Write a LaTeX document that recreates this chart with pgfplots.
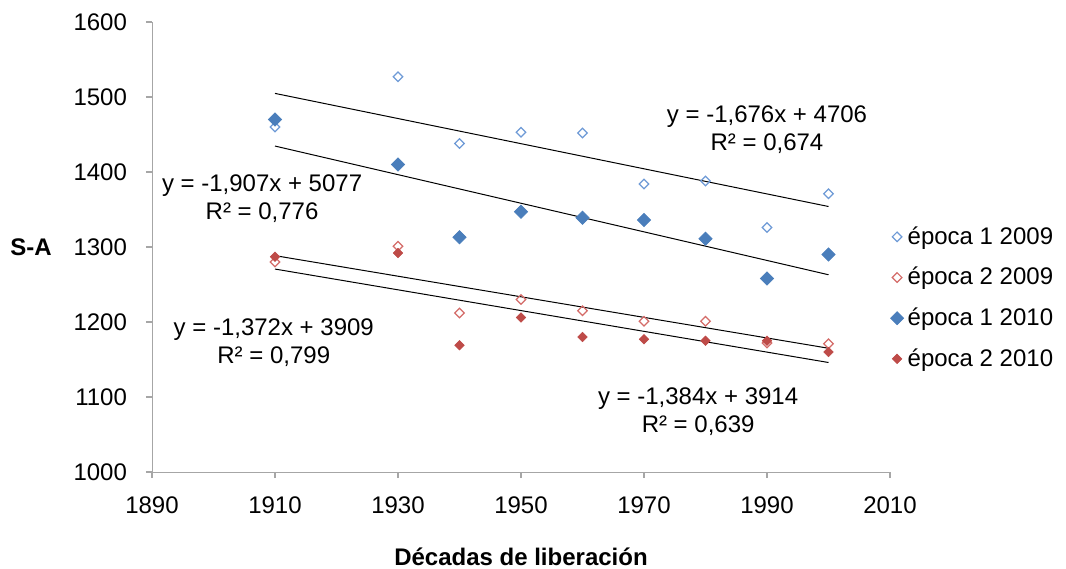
\documentclass[border=0pt]{standalone}
\usepackage{pgfplots}
\pgfplotsset{compat=1.18}
\usepackage{fontspec}
\setmainfont{Liberation Sans}

\definecolor{bluefill}{HTML}{4A7EBB}
\definecolor{blueopen}{HTML}{6E9AD6}
\definecolor{redfill}{HTML}{BE4B48}
\definecolor{redopen}{HTML}{D46B68}

% square diamond marks like Excel
\pgfdeclareplotmark{dia}{%
  \pgfpathmoveto{\pgfqpoint{0pt}{\pgfplotmarksize}}%
  \pgfpathlineto{\pgfqpoint{\pgfplotmarksize}{0pt}}%
  \pgfpathlineto{\pgfqpoint{0pt}{-\pgfplotmarksize}}%
  \pgfpathlineto{\pgfqpoint{-\pgfplotmarksize}{0pt}}%
  \pgfpathclose\pgfusepathqstroke}
\pgfdeclareplotmark{dia*}{%
  \pgfpathmoveto{\pgfqpoint{0pt}{\pgfplotmarksize}}%
  \pgfpathlineto{\pgfqpoint{\pgfplotmarksize}{0pt}}%
  \pgfpathlineto{\pgfqpoint{0pt}{-\pgfplotmarksize}}%
  \pgfpathlineto{\pgfqpoint{-\pgfplotmarksize}{0pt}}%
  \pgfpathclose\pgfusepathqfillstroke}

\begin{document}
\begin{tikzpicture}[font=\fontsize{12}{14}\selectfont]
\useasboundingbox (-76pt,-48pt) rectangle (457pt,236pt);
\begin{axis}[
    at={(0,0)}, anchor=south west,
    width=369pt, height=225pt, scale only axis,
    xmin=1890, xmax=2010, ymin=1000, ymax=1600,
    xtick={1890,1910,...,2010}, ytick={1000,1100,...,1600},
    axis x line=bottom, axis y line=left,
    axis line style={draw=gray!70, -},
    tick style={draw=gray!70, line width=0.6pt},
    tick align=outside, major tick length=3pt,
    /pgf/number format/1000 sep={},
    /pgf/number format/assume math mode=true,
    xticklabel style={yshift=-6pt},
    yticklabel style={xshift=-6pt},
    xlabel={\bfseries Décadas de liberación},
    ylabel={\bfseries S-A},
    every axis x label/.style={at={(axis description cs:0.5,-0.188)}, anchor=center},
    every axis y label/.style={at={(axis description cs:-0.164,0.5)}, anchor=center},
    legend style={at={(axis description cs:0.992,0.387)}, anchor=west, draw=none, fill=none,
        row sep=6pt, font=\fontsize{12}{14}\selectfont},
    legend cell align=left,
]
% época 1 2009
\addplot[only marks, mark=dia, mark size=2.4pt, blueopen, line width=0.6pt]
  coordinates {(1910,1460) (1930,1527) (1940,1438) (1950,1453) (1960,1452)
               (1970,1384) (1980,1388) (1990,1326) (2000,1371)};
\addlegendentry{época 1 2009}
% época 2 2009
\addplot[only marks, mark=dia, mark size=2.4pt, redopen, line width=0.6pt]
  coordinates {(1910,1280) (1930,1301) (1940,1212) (1950,1230) (1960,1215)
               (1970,1201) (1980,1201) (1990,1172) (2000,1171)};
\addlegendentry{época 2 2009}
% época 1 2010
\addplot[only marks, mark=dia*, mark size=3.3pt, bluefill, line width=0.3pt]
  coordinates {(1910,1470) (1930,1410) (1940,1313) (1950,1347) (1960,1339)
               (1970,1336) (1980,1311) (1990,1258) (2000,1290)};
\addlegendentry{época 1 2010}
% época 2 2010
\addplot[only marks, mark=dia*, mark size=2.4pt, redfill, line width=0.3pt]
  coordinates {(1910,1287) (1930,1292) (1940,1169) (1950,1206) (1960,1180)
               (1970,1177) (1980,1175) (1990,1175) (2000,1160)};
\addlegendentry{época 2 2010}

% trend lines
\addplot[forget plot, black, line width=0.5pt] coordinates {(1910,1504.8) (2000,1354.0)};
\addplot[forget plot, black, line width=0.5pt] coordinates {(1910,1434.6) (2000,1263.0)};
\addplot[forget plot, black, line width=0.5pt] coordinates {(1910,1288.5) (2000,1165.0)};
\addplot[forget plot, black, line width=0.5pt] coordinates {(1910,1270.6) (2000,1146.0)};

\node[align=center, inner sep=0pt] at (axis cs:1990,1457) {y = -1,676x + 4706\\R² = 0,674};
\node[align=center, inner sep=0pt] at (axis cs:1907.9,1365) {y = -1,907x + 5077\\R² = 0,776};
\node[align=center, inner sep=0pt] at (axis cs:1909.8,1172) {y = -1,372x + 3909\\R² = 0,799};
\node[align=center, inner sep=0pt] at (axis cs:1978.8,1081) {y = -1,384x + 3914\\R² = 0,639};
\end{axis}
\end{tikzpicture}
\end{document}
